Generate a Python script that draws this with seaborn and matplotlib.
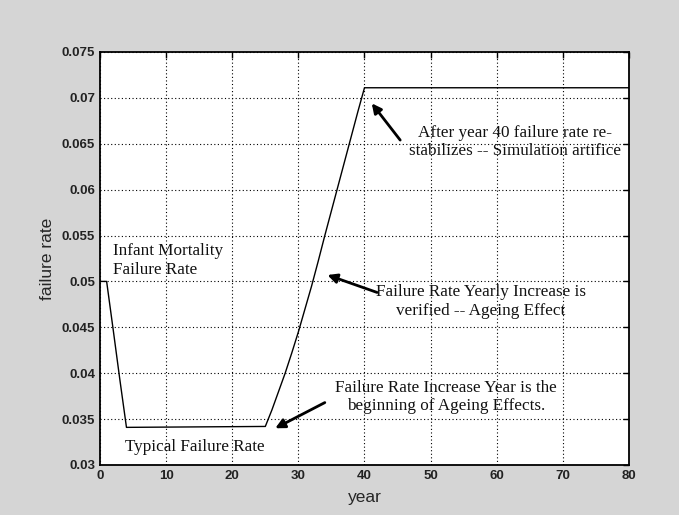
import numpy as np
import pandas as pd
import matplotlib
matplotlib.use('Agg')
import matplotlib.pyplot as plt
import seaborn as sns

# ---- data ----
years = [0, 1, 2, 3, 4, 25, 26, 27, 28, 29, 30, 31, 32, 33, 34, 35, 36, 37, 38, 39, 40, 80]
rates = [0.0500, 0.0500, 0.0447, 0.0393, 0.0341, 0.0342, 0.0360, 0.0380, 0.0400, 0.0422,
         0.0445, 0.0470, 0.0495, 0.0522, 0.0550, 0.0577, 0.0604, 0.0631, 0.0658, 0.0685,
         0.0711, 0.0711]

xticks = [0, 10, 20, 30, 40, 50, 60, 70, 80]
yticks = [0.03, 0.035, 0.04, 0.045, 0.05, 0.055, 0.06, 0.065, 0.07, 0.075]
ytick_labels = ['0.03', '0.035', '0.04', '0.045', '0.05', '0.055', '0.06', '0.065', '0.07', '0.075']

df = pd.DataFrame({'year': years, 'failure rate': rates})

sns.set_style('white')
plt.rcParams['font.family'] = ['Liberation Sans', 'DejaVu Sans']

fig = plt.figure(figsize=(6.79, 5.15), dpi=100, facecolor='#d5d5d5')
ax = fig.add_axes([0.1473, 0.0971, 0.779, 0.802])
ax.set_facecolor('white')

sns.lineplot(data=df, x='year', y='failure rate', ax=ax, color='black', lw=1.0)

ax.set_xlim(0, 80)
ax.set_ylim(0.03, 0.075)
ax.set_xticks(xticks)
ax.set_yticks(yticks)
ax.set_yticklabels(ytick_labels)
ax.grid(True, color='black', linestyle=(0, (1, 2.2)), lw=0.8)
ax.tick_params(direction='in', length=4, width=1, top=True, right=True,
               labelsize=9.5, colors='black')
for lab in ax.get_xticklabels() + ax.get_yticklabels():
    lab.set_fontweight('bold')
    lab.set_color('#222222')
for sp in ax.spines.values():
    sp.set_color('black')
    sp.set_linewidth(1.3)

ax.set_xlabel('year', fontsize=12.5, labelpad=6)
ax.set_ylabel('failure rate', fontsize=12.5, labelpad=5)

serif = dict(family=['Liberation Serif', 'DejaVu Serif'], fontsize=12.3, color='#111111')
arrow = dict(arrowstyle='-|>', color='black', lw=2, mutation_scale=14, shrinkA=0, shrinkB=0)

ax.text(1.9, 0.0523, 'Infant Mortality\nFailure Rate', ha='left', va='center',
        linespacing=1.2, **serif)
ax.text(14.4, 0.0320, 'Typical Failure Rate', ha='center', va='center', **serif)
ax.text(52.3, 0.0374, 'Failure Rate Increase Year is the\nbeginning of Ageing Effects.',
        ha='center', va='center', linespacing=1.2, **serif)
ax.text(57.6, 0.0478, 'Failure Rate Yearly Increase is\nverified -- Ageing Effect',
        ha='center', va='center', linespacing=1.2, **serif)
ax.text(62.8, 0.0652, 'After year 40 failure rate re-\nstabilizes -- Simulation artifice',
        ha='center', va='center', linespacing=1.2, **serif)

ax.annotate('', xy=(26.5, 0.0340), xytext=(34.0, 0.0368), arrowprops=arrow)
ax.annotate('', xy=(34.4, 0.0507), xytext=(41.9, 0.0488), arrowprops=arrow)
ax.annotate('', xy=(41.1, 0.0694), xytext=(45.4, 0.0654), arrowprops=arrow)

fig.savefig('out.png', dpi=100, facecolor=fig.get_facecolor())
